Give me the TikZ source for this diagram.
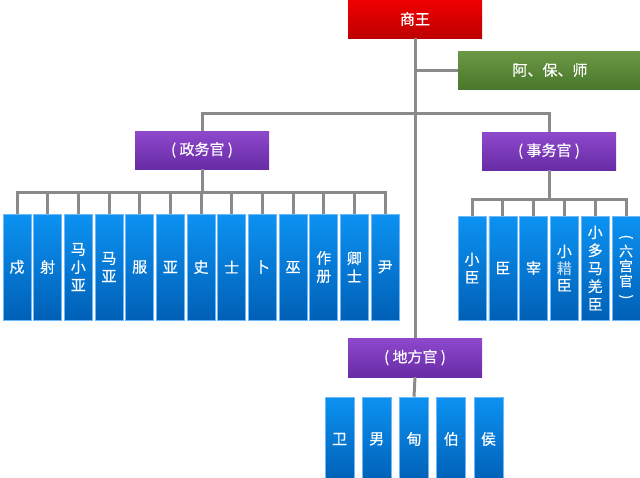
\documentclass[tikz,border=0pt]{standalone}
\usepackage{fontspec}
\setmainfont{Noto Sans CJK SC}[FakeBold=0.35]
\usepackage{graphicx}
\definecolor{lnk}{RGB}{138,138,138}
\definecolor{redT}{RGB}{240,0,0}
\definecolor{redB}{RGB}{190,0,0}
\definecolor{grnT}{RGB}{106,152,68}
\definecolor{grnB}{RGB}{74,120,44}
\definecolor{purT}{RGB}{142,72,204}
\definecolor{purB}{RGB}{104,44,166}
\definecolor{bluT}{RGB}{12,146,242}
\definecolor{bluB}{RGB}{0,96,182}
\definecolor{bluE}{RGB}{110,184,250}
\definecolor{faint}{RGB}{196,220,244}
\tikzset{
  conn/.style={draw=lnk, line width=3pt},
  head/.style={inner sep=0pt, text=white, font=\fontsize{15}{17}\selectfont,
    minimum width=134pt, minimum height=38pt},
  redbox/.style={head, top color=redT, bottom color=redB},
  grnbox/.style={head, top color=grnT, bottom color=grnB},
  purbox/.style={head, top color=purT, bottom color=purB},
  bluebox/.style={inner sep=0pt, text=white, align=center,
    font=\fontsize{15}{18}\selectfont, minimum width=28pt,
    top color=bluT, bottom color=bluB, draw=bluE, line width=0.6pt},
  lbox/.style={bluebox, minimum height=106pt},
  rbox/.style={bluebox, minimum height=104pt},
  dbox/.style={bluebox, minimum width=29pt, minimum height=84pt},
}
\newcommand{\vpl}{\rotatebox[origin=c]{-90}{(}}
\newcommand{\vpr}{\rotatebox[origin=c]{-90}{)}}
\begin{document}
\begin{tikzpicture}[x=1pt,y=-1pt]
\useasboundingbox (0,0) rectangle (640,477);
\clip (0,0) rectangle (640,477);
% heads
\node[redbox] (king) at (415,19) {商王};
\node[grnbox, minimum width=184pt] (abs) at (550,70) {阿、保、师};
\node[purbox] (gov) at (202,150) {( 政务官 )};
\node[purbox] (aff) at (549,151) {( 事务官 )};
\node[purbox, minimum height=39pt] (loc) at (415,357.5) {( 地方官 )};
% left row
\foreach \t [count=\i] in {戍,射,马\\小\\亚,马\\亚,服,亚,史,士,卜,巫,作\\册,卿\\士,尹}{
  \node[lbox] (L\i) at ({17+30.67*(\i-1)},267) {\t};
}
% right row
\node[rbox] (R1) at (472,268) {小\\臣};
\node[rbox] (R2) at (502.8,268) {臣};
\node[rbox] (R3) at (533.6,268) {宰};
\node[rbox] (R4) at (564.4,268) {小\\[-1pt]{\color{faint}耤}\\[-1pt]臣};
\node[rbox] (R5) at (595.2,268) {小\\多\\马\\羌\\臣};
\node[rbox, font=\fontsize{14}{15}\selectfont] (R6) at (626,268) {\vpl\\六\\宫\\官\\\vpr};
% bottom row
\foreach \t [count=\i] in {卫,男,甸,伯,侯}{
  \node[dbox] (D\i) at ({339.5+37.25*(\i-1)},439) {\t};
}
% connectors
\draw[conn] (king.south) -- (loc.north);
\draw[conn] (abs.west) -- (abs.west -| king.south);
\draw[conn] (gov.north) -- ++(0,-17) -| (aff.north);
\foreach \i in {1,...,13}{
  \draw[conn] (gov.south) -- ++(0,23) -| (L\i.north);
}
\foreach \i in {1,...,6}{
  \draw[conn] (aff.south) -- ++(0,29) -| (R\i.north);
}
\draw[conn] (loc.south) -- (D3.north);
\end{tikzpicture}
\end{document}
